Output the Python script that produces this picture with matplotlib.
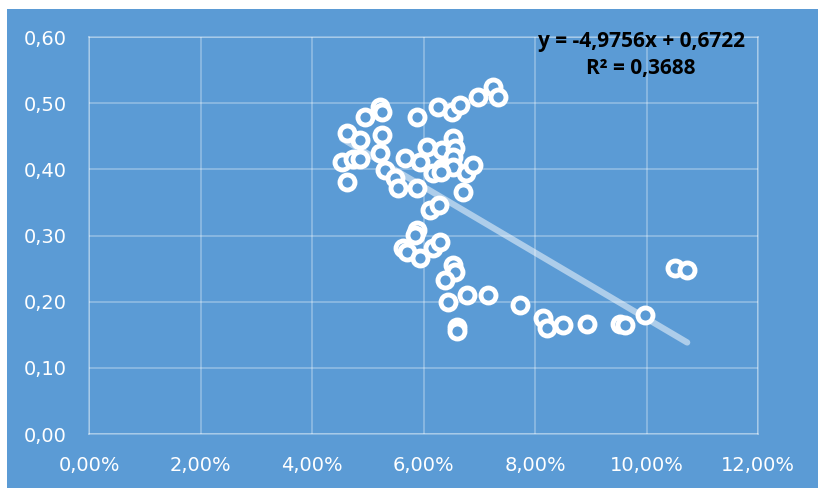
import numpy as np
import matplotlib
matplotlib.use('Agg')
from matplotlib import pyplot as plt
from matplotlib.patches import Rectangle
from matplotlib.ticker import FuncFormatter

# x values in percent, y values
xPct = [4.63, 4.86, 4.95, 5.22, 5.26, 5.26, 5.22, 4.54, 4.74, 4.86,
        4.63, 5.31, 5.49, 5.54, 5.67, 5.88, 5.94, 6.06, 6.17, 6.26,
        6.33, 6.33, 6.51, 6.53, 6.56, 6.53, 6.53, 6.65, 6.76, 6.89,
        6.71, 6.98, 7.25, 7.34, 5.88, 6.12, 6.28, 5.88, 5.85, 5.63,
        5.70, 5.94, 6.17, 6.30, 6.53, 6.56, 6.39, 6.44, 6.78, 7.16,
        7.73, 6.60, 6.60, 8.14, 8.22, 8.50, 8.93, 9.52, 9.61, 9.97,
        10.51, 10.73, 6.31]
yVal = [0.455, 0.444, 0.479, 0.494, 0.487, 0.452, 0.425, 0.411, 0.416, 0.416,
        0.381, 0.399, 0.387, 0.372, 0.417, 0.479, 0.411, 0.434, 0.394, 0.494,
        0.429, 0.402, 0.487, 0.447, 0.432, 0.419, 0.404, 0.497, 0.394, 0.407,
        0.366, 0.509, 0.524, 0.509, 0.372, 0.339, 0.346, 0.308, 0.301, 0.281,
        0.275, 0.266, 0.281, 0.290, 0.255, 0.245, 0.233, 0.199, 0.210, 0.210,
        0.195, 0.162, 0.156, 0.175, 0.160, 0.165, 0.166, 0.166, 0.165, 0.180,
        0.251, 0.248, 0.396]

slope = -4.9756
intercept = 0.6722
rSquared = 0.3688

blue = '#5B9BD5'

fig = plt.figure(figsize=(8.18, 4.91), dpi=100)
fig.patch.set_facecolor('white')
fig.patches.append(Rectangle((7/818, 3/491), 811/818, 479/491, transform=fig.transFigure,
                             facecolor=blue, edgecolor='none', zorder=-10))

ax = fig.add_axes([89/818, 57/491, 669/818, 397/491])
ax.set_facecolor(blue)

x = np.array(xPct) / 100.0
y = np.array(yVal)

xs = np.array([x.min(), x.max()])
ax.plot(xs, slope * xs + intercept, color='white', alpha=0.5, lw=4.5,
        solid_capstyle='round', zorder=2)

ax.scatter(x, y, s=117, facecolor=blue, edgecolor='white', linewidths=3.5, zorder=3)

ax.set_xlim(0, 0.12)
ax.set_ylim(0, 0.60)
ax.set_xticks(np.arange(0, 0.1201, 0.02))
ax.set_yticks(np.arange(0, 0.601, 0.10))
ax.xaxis.set_major_formatter(FuncFormatter(lambda v, p: ('%.2f%%' % (v * 100)).replace('.', ',')))
ax.yaxis.set_major_formatter(FuncFormatter(lambda v, p: ('%.2f' % v).replace('.', ',')))

ax.grid(True, color='white', alpha=0.3, lw=1.3)
ax.set_axisbelow(True)
for s in ax.spines.values():
  s.set_color('white')
  s.set_alpha(0.3)
  s.set_linewidth(1.3)
ax.tick_params(length=0, colors='white', labelsize=14)
ax.tick_params(axis='y', pad=16)
ax.tick_params(axis='x', pad=16)

eq = 'y = %sx + %s\nR² = %s' % (('%.4f' % slope).replace('.', ','),
                                 ('%.4f' % intercept).replace('.', ','),
                                 ('%.4f' % rSquared).replace('.', ','))
fig.text(641/818, 1 - 55/491, eq, ha='center', va='center', fontsize=15,
         fontweight='bold', color='black', family='Open Sans', linespacing=1.35)

fig.savefig('out.png', dpi=100)
